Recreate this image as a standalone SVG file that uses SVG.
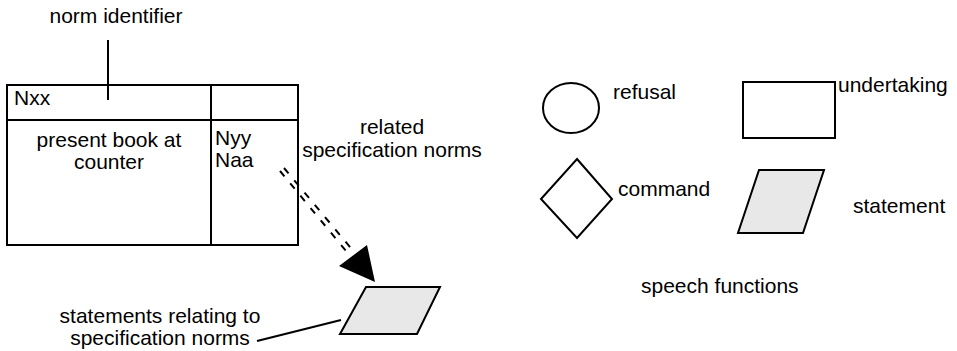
<svg xmlns="http://www.w3.org/2000/svg" width="957" height="351" viewBox="0 0 957 351">
  <style>
    text { font-family: "Liberation Sans", Arial, sans-serif; font-size: 21px; fill: #000; }
    .mid { text-anchor: middle; }
    .shape { fill: #fff; stroke: #000; stroke-width: 2; }
    .stmt { fill: #e8e8e8; stroke: #000; stroke-width: 2; }
    .line { fill: none; stroke: #000; stroke-width: 2; }
    .dash { fill: none; stroke: #000; stroke-width: 2; stroke-dasharray: 7 9; }
  </style>
  <defs>
    <marker id="bigHead" viewBox="0 0 34 36" refX="34" refY="18" markerWidth="34" markerHeight="36" markerUnits="userSpaceOnUse" orient="auto">
      <path d="M0,0 L34,18 L0,36 Z" fill="#000"/>
    </marker>
  </defs>

  <!-- norm table -->
  <g id="norm-table">
    <rect class="shape" x="7" y="85" width="291" height="160"/>
    <line class="line" x1="7" y1="120" x2="298" y2="120"/>
    <line class="line" x1="211" y1="85" x2="211" y2="245"/>
    <text x="14" y="105">Nxx</text>
    <text class="mid" x="109" y="147">present book at</text>
    <text class="mid" x="109" y="169">counter</text>
    <text x="215" y="145">Nyy</text>
    <text x="215" y="167">Naa</text>
  </g>

  <g id="label-norm-identifier">
    <text class="mid" x="116" y="23">norm identifier</text>
  </g>

  <g id="label-related">
    <text class="mid" x="392" y="134">related</text>
    <text class="mid" x="392" y="157">specification norms</text>
  </g>

  <g id="spec-statement">
    <polygon class="stmt" points="366,287 440,287 417,334 340,334"/>
  </g>

  <g id="label-statements">
    <text class="mid" x="160" y="323">statements relating to</text>
    <text class="mid" x="160" y="345">specification norms</text>
  </g>

  <!-- speech function legend -->
  <g id="legend-refusal">
    <ellipse class="shape" cx="571" cy="108" rx="28" ry="25"/>
    <text x="613" y="99">refusal</text>
  </g>
  <g id="legend-undertaking">
    <rect class="shape" x="743" y="82" width="92" height="56"/>
    <text x="838" y="92">undertaking</text>
  </g>
  <g id="legend-command">
    <polygon class="shape" points="577,159 612,199 577,238 541,199"/>
    <text x="618" y="196">command</text>
  </g>
  <g id="legend-statement">
    <polygon class="stmt" points="759,170 824,170 803,233 738,233"/>
    <text x="853" y="213">statement</text>
  </g>
  <g id="label-speech-functions">
    <text x="641" y="293">speech functions</text>
  </g>

  <g id="connectors">
    <line class="line" x1="108" y1="40" x2="108" y2="100"/>
    <line class="line" x1="257" y1="341" x2="341" y2="320"/>
    <!-- double dashed link to the statement, with a solid head -->
    <line class="dash" x1="284" y1="168" x2="355" y2="253"/>
    <line class="dash" x1="280" y1="171" x2="351" y2="257"/>
    <path d="M339,266 L367,245 L375,282 Z" fill="#000"/>
  </g>
</svg>
